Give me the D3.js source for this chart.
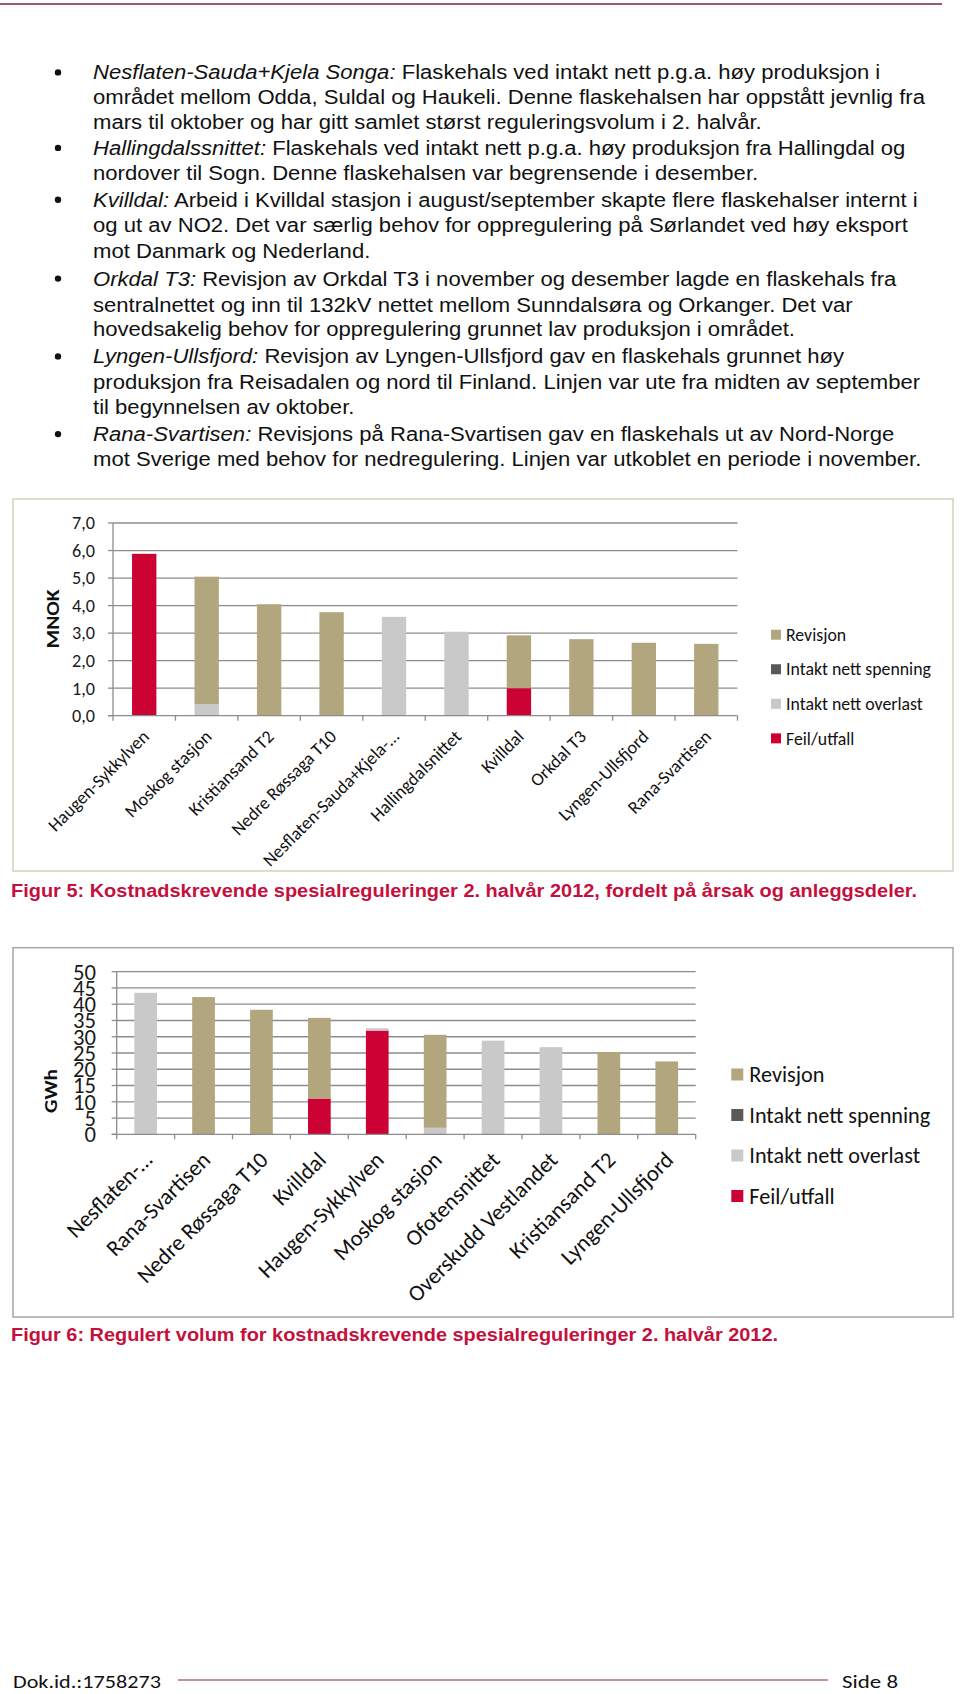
<!DOCTYPE html>
<html><head><meta charset="utf-8">
<script src="https://cdn.jsdelivr.net/npm/d3@7"></script>
<style>body{margin:0;background:#fff}svg{display:block}</style>
</head><body>
<svg id="page" width="960" height="1694"></svg>
<script>
// ---------------- DATA ----------------
const seriesKeys = ["Feil/utfall", "Intakt nett overlast", "Intakt nett spenning", "Revisjon"];
const legendOrder = ["Revisjon", "Intakt nett spenning", "Intakt nett overlast", "Feil/utfall"];

// Figur 5 (MNOK)
const cats1 = ["Haugen-Sykkylven", "Moskog stasjon", "Kristiansand T2", "Nedre Røssaga T10",
  "Nesflaten-Sauda+Kjela-…", "Hallingdalsnittet", "Kvilldal", "Orkdal T3", "Lyngen-Ullsfjord", "Rana-Svartisen"];
const feil1      = [5.88, 0, 0, 0, 0, 0, 1.00, 0, 0, 0];
const overlast1  = [0, 0.42, 0, 0, 3.59, 3.05, 0, 0, 0, 0];
const spenning1  = [0, 0, 0, 0, 0, 0, 0, 0, 0, 0];
const revisjon1  = [0, 4.63, 4.05, 3.76, 0, 0, 1.92, 2.78, 2.65, 2.61];
const yTicks1    = [0, 1, 2, 3, 4, 5, 6, 7];

// Figur 6 (GWh)
const cats2 = ["Nesflaten-…", "Rana-Svartisen", "Nedre Røssaga T10", "Kvilldal", "Haugen-Sykkylven",
  "Moskog stasjon", "Ofotensnittet", "Overskudd Vestlandet", "Kristiansand T2", "Lyngen-Ullsfjord"];
const feil2      = [0, 0, 0, 11.0, 31.9, 0, 0, 0, 0, 0];
const overlast2  = [43.5, 0, 0, 0, 0.7, 2.0, 28.8, 26.8, 0, 0];
const spenning2  = [0, 0, 0, 0, 0, 0, 0, 0, 0, 0];
const revisjon2  = [0, 42.2, 38.3, 24.8, 0, 28.6, 0, 0, 25.3, 22.4];
const yTicks2    = [0, 5, 10, 15, 20, 25, 30, 35, 40, 45, 50];

// Body text
const bodyLines = [
  [["Nesflaten-Sauda+Kjela Songa:", true], [" Flaskehals ved intakt nett p.g.a. høy produksjon i", false]],
  [["området mellom Odda, Suldal og Haukeli. Denne flaskehalsen har oppstått jevnlig fra", false]],
  [["mars til oktober og har gitt samlet størst reguleringsvolum i 2. halvår.", false]],
  [["Hallingdalssnittet:", true], [" Flaskehals ved intakt nett p.g.a. høy produksjon fra Hallingdal og", false]],
  [["nordover til Sogn. Denne flaskehalsen var begrensende i desember.", false]],
  [["Kvilldal:", true], [" Arbeid i Kvilldal stasjon i august/september skapte flere flaskehalser internt i", false]],
  [["og ut av NO2. Det var særlig behov for oppregulering på Sørlandet ved høy eksport", false]],
  [["mot Danmark og Nederland.", false]],
  [["Orkdal T3:", true], [" Revisjon av Orkdal T3 i november og desember lagde en flaskehals fra", false]],
  [["sentralnettet og inn til 132kV nettet mellom Sunndalsøra og Orkanger. Det var", false]],
  [["hovedsakelig behov for oppregulering grunnet lav produksjon i området.", false]],
  [["Lyngen-Ullsfjord:", true], [" Revisjon av Lyngen-Ullsfjord gav en flaskehals grunnet høy", false]],
  [["produksjon fra Reisadalen og nord til Finland. Linjen var ute fra midten av september", false]],
  [["til begynnelsen av oktober.", false]],
  [["Rana-Svartisen:", true], [" Revisjons på Rana-Svartisen gav en flaskehals ut av Nord-Norge", false]],
  [["mot Sverige med behov for nedregulering. Linjen var utkoblet en periode i november.", false]]
];
const caption1 = "Figur 5: Kostnadskrevende spesialreguleringer 2. halvår 2012, fordelt på årsak og anleggsdeler.";
const caption2 = "Figur 6: Regulert volum for kostnadskrevende spesialreguleringer 2. halvår 2012.";

// ---------------- LAYOUT / STYLE ----------------
const colors = {"Revisjon": "#b2a67e", "Intakt nett spenning": "#595959", "Intakt nett overlast": "#c9c9c9", "Feil/utfall": "#cc0134"};
const chartFont = "Carlito, Lato, sans-serif";
const textFont = "'Liberation Sans', Arial, sans-serif";
const narrowFont = "'Liberation Sans Narrow', 'Liberation Sans', Arial, sans-serif";
const lineY = [72.4, 97.2, 122.0, 147.9, 172.8, 199.8, 224.6, 250.5, 278.6, 304.5, 329.4, 356.4, 382.3, 407.1, 434.1, 459.0];

const svg = d3.select("#page");

function fitSize(text, family, weight, base, target) {
  const t = svg.append("text").attr("font-family", family).attr("font-weight", weight)
    .attr("font-size", base).text(text);
  const w = t.node().getComputedTextLength();
  t.remove();
  return base * target / w;
}

// top rule
svg.append("line").attr("x1", 0).attr("x2", 942).attr("y1", 4).attr("y2", 4)
  .attr("stroke", "#9b5b6c").attr("stroke-width", 2);

// body text: natural Arial proportions, scaled so the longest line spans 93..925
const textX = 93, bodyFs = 20;
const bodyNodes = bodyLines.map((segs, i) => {
  if (segs[0][1]) {
    svg.append("circle").attr("cx", 58).attr("cy", lineY[i]).attr("r", 3.2).attr("fill", "#111");
  }
  const t = svg.append("text").attr("x", textX).attr("y", lineY[i] + 7)
    .attr("font-family", textFont).attr("font-size", bodyFs).attr("fill", "#111");
  segs.forEach(s => t.append("tspan").attr("font-style", s[1] ? "italic" : "normal").text(s[0]));
  return t;
});
const kBody = (925 - textX) / bodyNodes[1].node().getComputedTextLength();
bodyNodes.forEach(t => {
  const w = t.node().getComputedTextLength();
  t.attr("textLength", w * kBody).attr("lengthAdjust", "spacingAndGlyphs");
});

function drawChart(cfg) {
  const g = svg.append("g");
  const [fx0, fy0, fx1, fy1] = cfg.frame;
  g.append("rect").attr("x", fx0).attr("y", fy0).attr("width", fx1 - fx0).attr("height", fy1 - fy0)
    .attr("fill", "#fff").attr("stroke", cfg.frameColor).attr("stroke-width", 1.5);

  const rows = cfg.cats.map((c, i) => ({
    cat: c,
    "Feil/utfall": cfg.feil[i],
    "Intakt nett overlast": cfg.overlast[i],
    "Intakt nett spenning": cfg.spenning[i],
    "Revisjon": cfg.revisjon[i]
  }));
  const x = d3.scaleBand().domain(cfg.cats).range(cfg.xRange).paddingInner(cfg.pad).paddingOuter(cfg.pad / 2);
  const y = d3.scaleLinear().domain([0, cfg.yMax]).range(cfg.yRange);
  const gridColor = "#8c8c8c";

  g.selectAll(".grid").data(cfg.yTicks.filter(d => d > 0)).join("line")
    .attr("x1", cfg.xRange[0]).attr("x2", cfg.xRange[1])
    .attr("y1", d => y(d)).attr("y2", d => y(d))
    .attr("stroke", gridColor).attr("stroke-width", 1.3);

  const stacked = d3.stack().keys(seriesKeys)(rows);
  stacked.forEach(layer => {
    g.selectAll(null).data(layer.filter(d => d[1] - d[0] > 0)).join("rect")
      .attr("x", d => x(d.data.cat)).attr("width", x.bandwidth())
      .attr("y", d => y(d[1])).attr("height", d => y(d[0]) - y(d[1]))
      .attr("fill", colors[layer.key]);
  });

  const y0 = y(0);
  g.append("line").attr("x1", cfg.xRange[0]).attr("x2", cfg.xRange[0])
    .attr("y1", y(cfg.yMax)).attr("y2", y0).attr("stroke", gridColor).attr("stroke-width", 1.3);
  g.append("line").attr("x1", cfg.xRange[0] - 5).attr("x2", cfg.xRange[1])
    .attr("y1", y0).attr("y2", y0).attr("stroke", gridColor).attr("stroke-width", 1.3);
  g.selectAll(".yt").data(cfg.yTicks).join("line")
    .attr("x1", cfg.xRange[0] - 5).attr("x2", cfg.xRange[0])
    .attr("y1", d => y(d)).attr("y2", d => y(d)).attr("stroke", gridColor).attr("stroke-width", 1.3);
  const bounds = d3.range(cfg.cats.length + 1).map(i => cfg.xRange[0] + i * x.step());
  g.selectAll(".xt").data(bounds).join("line")
    .attr("x1", d => d).attr("x2", d => d).attr("y1", y0).attr("y2", y0 + 5)
    .attr("stroke", gridColor).attr("stroke-width", 1.3);

  const yfs = fitSize(cfg.yRef[0], chartFont, "normal", 16, cfg.yRef[1]);
  g.selectAll(".yl").data(cfg.yTicks).join("text")
    .attr("x", cfg.yLabelX).attr("y", d => y(d)).attr("dy", "0.35em")
    .attr("text-anchor", "end").attr("font-family", chartFont).attr("font-size", yfs)
    .attr("fill", "#1a1a1a").text(cfg.fmt);

  g.append("text").attr("transform", `translate(${cfg.yTitlePos[0]},${cfg.yTitlePos[1]}) rotate(-90)`)
    .attr("text-anchor", "middle").attr("dy", "0.35em")
    .attr("font-family", chartFont).attr("font-weight", "bold").attr("font-size", cfg.yTitleSize)
    .attr("textLength", cfg.yTitleLen).attr("lengthAdjust", "spacingAndGlyphs")
    .attr("fill", "#111").text(cfg.yTitle);

  const xfs = fitSize(cfg.xRef[0], chartFont, "normal", 16, cfg.xRef[1]);
  g.selectAll(".xl").data(cfg.cats).join("text")
    .attr("transform", d => `translate(${x(d) + x.bandwidth() / 2 + cfg.labelDx},${y0 + cfg.labelDy}) rotate(-45)`)
    .attr("text-anchor", "end").attr("font-family", chartFont).attr("font-size", xfs)
    .attr("fill", "#111").text(d => d);

  const lg = cfg.legend;
  const lfs = fitSize(lg.ref[0], chartFont, "normal", 16, lg.ref[1]);
  legendOrder.forEach((k, i) => {
    const cy = lg.y0 + i * lg.dy;
    g.append("rect").attr("x", lg.x).attr("y", cy - lg.sq / 2).attr("width", lg.sq).attr("height", lg.sq)
      .attr("fill", colors[k]);
    g.append("text").attr("x", lg.textX).attr("y", cy).attr("dy", "0.35em")
      .attr("font-family", chartFont).attr("font-size", lfs).attr("fill", "#111").text(k);
  });

  svg.append("text").attr("x", cfg.caption.x).attr("y", cfg.caption.y)
    .attr("font-family", narrowFont).attr("font-weight", "bold").attr("font-size", 18)
    .attr("fill", "#c50f3c").attr("textLength", cfg.caption.w).attr("lengthAdjust", "spacingAndGlyphs")
    .text(cfg.caption.text);
}

drawChart({
  frame: [13, 499, 953, 871], frameColor: "#d6d0bb",
  cats: cats1, feil: feil1, overlast: overlast1, spenning: spenning1, revisjon: revisjon1,
  xRange: [113, 737.5], yRange: [715.7, 523], yMax: 7, yTicks: yTicks1, pad: 0.61,
  fmt: d => d3.format(".1f")(d).replace(".", ","), yLabelX: 95, yRef: ["7,0", 23],
  yTitle: "MNOK", yTitlePos: [53, 619], yTitleLen: 59, yTitleSize: 18,
  xRef: ["Haugen-Sykkylven", 134], labelDx: 6, labelDy: 22,
  legend: {x: 771, textX: 786, y0: 634.7, dy: 34.55, sq: 10, ref: ["Intakt nett spenning", 145]},
  caption: {text: caption1, x: 11, y: 897, w: 906}
});

drawChart({
  frame: [13, 947.7, 953, 1317], frameColor: "#a6a6a6",
  cats: cats2, feil: feil2, overlast: overlast2, spenning: spenning2, revisjon: revisjon2,
  xRange: [116.7, 695.7], yRange: [1134.3, 971.7], yMax: 50, yTicks: yTicks2, pad: 0.608,
  fmt: d3.format("d"), yLabelX: 96, yRef: ["50", 23],
  yTitle: "GWh", yTitlePos: [51, 1091], yTitleLen: 44, yTitleSize: 18,
  xRef: ["Haugen-Sykkylven", 167], labelDx: 8, labelDy: 27,
  legend: {x: 731.3, textX: 749.3, y0: 1074.5, dy: 40.5, sq: 12, ref: ["Intakt nett spenning", 181]},
  caption: {text: caption2, x: 11, y: 1341, w: 767}
});

// footer
svg.append("text").attr("x", 13).attr("y", 1688).attr("font-family", chartFont).attr("font-size", 19)
  .attr("fill", "#111").attr("textLength", 148).attr("lengthAdjust", "spacingAndGlyphs").text("Dok.id.:1758273");
svg.append("line").attr("x1", 178).attr("x2", 828).attr("y1", 1680).attr("y2", 1680)
  .attr("stroke", "#a27080").attr("stroke-width", 1.5);
svg.append("text").attr("x", 842).attr("y", 1688).attr("font-family", chartFont).attr("font-size", 19)
  .attr("fill", "#111").attr("textLength", 56).attr("lengthAdjust", "spacingAndGlyphs").text("Side 8");
</script>
</body></html>
